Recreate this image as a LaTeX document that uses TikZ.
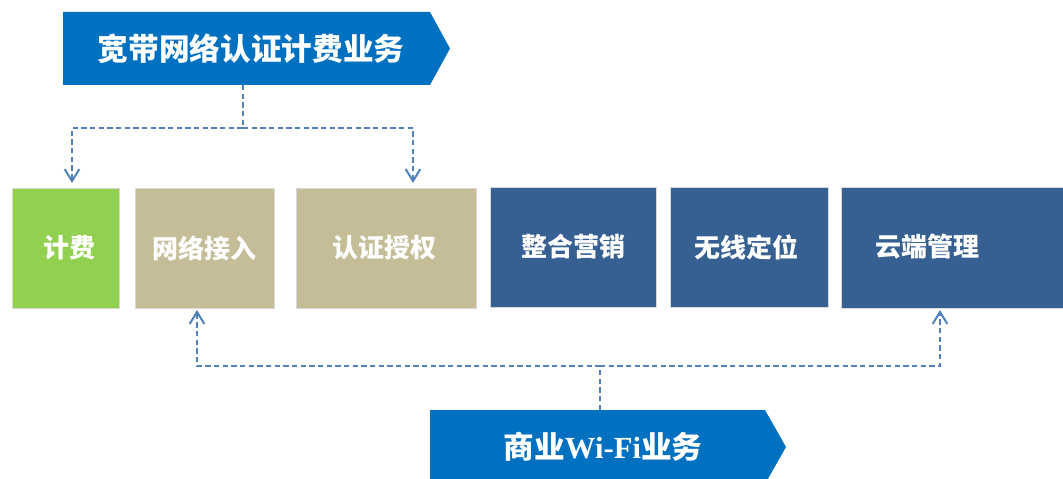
\documentclass[tikz,border=0pt]{standalone}
\usepackage{fontspec}
\newfontfamily\cjk{Noto Sans CJK SC}
\newfontfamily\serifb{Liberation Serif}
\usetikzlibrary{arrows.meta}
\definecolor{bannerblue}{HTML}{0070C0}
\definecolor{linkblue}{HTML}{4F81BD}
\definecolor{darkbox}{HTML}{366092}
\definecolor{tanbox}{HTML}{C4BD97}
\definecolor{greenbox}{HTML}{92D050}
\begin{document}
\begin{tikzpicture}[x=0.75pt,y=-0.75pt,
  box/.style={draw=white!85!black,line width=0.6pt,anchor=north west,inner sep=0pt,minimum height=120*0.75pt},
  boxtext/.style={text=white,inner sep=0pt,font=\cjk\bfseries\fontsize{19.5}{20}\selectfont},
  bannertext/.style={inner sep=0pt,text=white,font=\cjk\bfseries\fontsize{23}{24}\selectfont},
  conn/.style={draw=linkblue,line width=1.5pt,dash pattern=on 4pt off 2.5pt,
    -{Straight Barb[length=9pt,width=11pt,line width=1.5pt]}}]
\useasboundingbox (0,0) rectangle (1063,478);
% top banner
\fill[bannerblue] (63,12) -- (430,12) -- (450,48.5) -- (430,85) -- (63,85) -- cycle;
\node[bannertext] (top) at (251,48.5) {宽带网络认证计费业务};
% bottom banner
\fill[bannerblue] (430,410) -- (765,410) -- (786,447) -- (765,484) -- (430,484) -- cycle;
\node[bannertext] (bot) at (603,447) {商业{\serifb\bfseries Wi-Fi}业务};
% boxes
\node[box,fill=greenbox,minimum width=107*0.75pt] (jf) at (12,188) {};
\node[boxtext] (jft) at (69,248) {计费};
\node[box,fill=tanbox,minimum width=139*0.75pt] (wl) at (135,188) {};
\node[boxtext] (wlt) at (204.5,248) {网络接入};
\node[box,fill=tanbox,minimum width=180*0.75pt] (rz) at (296,188) {};
\node[boxtext] (rzt) at (384,248) {认证授权};
\node[box,fill=darkbox,minimum width=166*0.75pt] (zh) at (490,187) {};
\node[boxtext] (zht) at (573,247) {整合营销};
\node[box,fill=darkbox,minimum width=158*0.75pt] (wx) at (670,187) {};
\node[boxtext] (wxt) at (746,247) {无线定位};
\node[box,fill=darkbox,minimum width=230*0.75pt,minimum height=121*0.75pt] (yd) at (841,187) {};
\node[boxtext] (ydt) at (927,247) {云端管理};
% connector coordinates
\coordinate (topc) at (243,85);
\coordinate (m1) at (243,128);
\coordinate (a1) at (72,183);
\coordinate (a2) at (413,183);
\coordinate (botc) at (600,410);
\coordinate (m2) at (600,366);
\coordinate (b1) at (197,310);
\coordinate (b2) at (940,310);
% connectors
\draw[conn] (topc) -- (m1) -| (a1);
\draw[conn] (m1) -| (a2);
\draw[conn] (botc) -- (m2) -| (b1);
\draw[conn] (m2) -| (b2);
\end{tikzpicture}
\end{document}
